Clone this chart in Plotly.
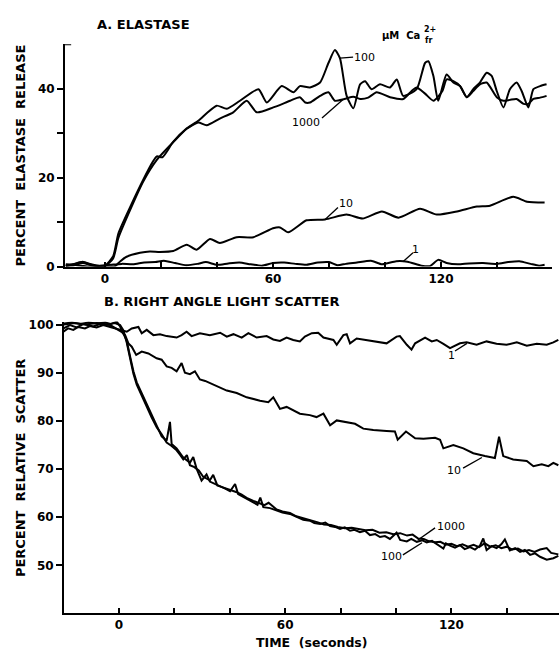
import plotly.graph_objects as go

W, H = 559, 659

# ---------------- Panel A: elastase release (percent) ----------------
A_T_100 = [-14.0, -11.0, -8.0, -5.0, -2.0, 0.0, 2.9, 4.8, 9.5, 13.7, 17.0, 18.5, 20.5, 24.4, 29.2,
           33.3, 36.5, 39.9, 43.5, 48.2, 54.8, 57.8, 63.1, 67.3, 69.6, 73.2, 76.8, 79.8, 82.1, 83.9,
           86.3, 88.7, 91.1, 92.9, 95.2, 98.2, 101.8, 104.2, 106.5, 111.3, 114.3, 115.5, 117.3, 119.0,
           122.0, 124.4, 126.8, 129.2, 131.5, 133.9, 136.3, 138.1, 139.9, 142.3, 144.6, 147.0, 148.8,
           151.2, 153.0, 155.4, 157.7]
A_V_100 = [0.2, 0.5, 1.0, 0.4, 0.1, 0.2, 2.3, 7.5, 14.1, 19.6, 23.5, 24.8, 24.6, 28.1, 31.1,
           32.8, 34.6, 36.2, 35.5, 37.3, 39.9, 36.9, 40.6, 39.2, 40.6, 40.3, 41.4, 45.8, 48.7, 46.9,
           38.4, 35.6, 41.0, 41.7, 39.9, 41.0, 40.3, 42.1, 38.4, 39.9, 45.8, 46.2, 42.8, 37.3,
           43.2, 41.4, 40.6, 38.1, 39.9, 41.4, 43.6, 42.9, 39.5, 35.8, 39.9, 41.4, 39.5,
           35.8, 39.9, 40.6, 41.0]

A_T_1000 = [-14.0, -11.0, -8.0, -5.0, -2.0, 0.0, 2.9, 4.8, 9.5, 13.7, 18.5, 24.4, 29.2, 33.3, 36.3,
            41.0, 45.8, 50.6, 54.2, 60.1, 66.1, 69.6, 71.5, 73.2, 76.8, 79.8, 82.1, 85.5, 88.7, 91.1,
            94.0, 97.0, 101.8, 106.5, 109.5, 111.3, 114.3, 117.3, 120.5, 122.0, 124.4, 126.8, 129.2,
            131.5, 133.9, 136.3, 139.9, 142.3, 144.6, 147.0, 149.5, 151.2, 153.0, 155.4, 157.7]
A_V_1000 = [0.1, 0.3, 0.8, 0.3, 0.0, 0.1, 1.8, 6.5, 13.5, 19.2, 24.0, 28.0, 31.0, 32.4, 31.8,
            33.3, 34.7, 37.3, 34.7, 35.8, 37.3, 38.1, 36.9, 36.9, 38.4, 39.2, 37.3, 37.7, 38.2, 37.7,
            38.0, 39.2, 38.1, 37.7, 39.5, 40.3, 38.9, 37.3, 39.5, 42.1, 41.7, 40.6, 38.1,
            39.5, 41.0, 41.4, 38.1, 37.3, 37.5, 37.7, 36.6, 36.6, 37.7, 38.0, 38.4]

A_T_10 = [-14.0, -11.0, -8.0, -5.0, -2.0, 0.0, 2.0, 3.6, 5.5, 7.7, 12.5, 16.0, 19.6, 24.4, 29.2,
          32.7, 37.5, 41.0, 47.0, 53.0, 60.0, 62.5, 65.4, 72.0, 78.6, 86.3, 92.0, 98.9, 104.8, 112.5,
          118.5, 125.7, 132.8, 137.5, 145.8, 150.7, 157.0]
A_V_10 = [0.2, 0.6, 1.1, 0.5, 0.1, 0.0, 0.0, 0.1, 1.2, 2.2, 3.1, 3.4, 3.3, 3.5, 4.9,
          3.8, 6.2, 5.3, 6.6, 6.6, 8.6, 8.8, 7.7, 10.4, 10.6, 11.7, 10.8, 12.4, 11.0, 13.0,
          11.7, 12.4, 13.5, 13.7, 15.7, 14.6, 14.4]

A_T_1 = [-14, -10, -6, -2, 2, 6, 10, 14, 18, 21, 25, 29, 33, 36, 40, 44, 48, 52, 56, 60, 64, 68,
         72, 76, 80, 83, 86, 90, 95, 99, 104, 108, 113, 116, 119, 122, 126, 130, 135, 140, 144, 148,
         152, 155, 157]
A_V_1 = [0.5, 0.3, 0.0, 0.2, 0.4, 0.6, 0.5, 0.9, 1.0, 1.3, 0.8, 0.3, 0.6, 1.0, 0.4, 0.7, 0.9, 0.5,
         0.2, 0.8, 0.9, 0.6, 0.4, 0.9, 1.0, 0.3, 0.6, 0.9, 1.3, 0.5, 1.2, 1.1, 0.2, 0.1, 1.5, 0.8,
         0.5, 0.7, 0.8, 0.6, 1.0, 1.2, 0.6, 0.2, 0.4]

# ---------------- Panel B: right angle light scatter (percent) ----------------
B_T_1 = [-20.1, -18.4, -16.5, -14.7, -12.3, -10.5, -8.1, -5.7, -3.2, -1.4, 0.4, 2.8, 4.6, 7.0, 8.2,
         10.0, 12.4, 14.8, 17.2, 20.8, 22.6, 24.4, 26.2, 29.2, 32.8, 36.5, 38.9, 41.3, 44.3, 46.7,
         49.7, 53.3, 55.7, 58.1, 60.5, 62.9, 65.3, 67.1, 69.6, 71.9, 73.8, 77.4, 78.6, 81.0, 82.2,
         83.4, 85.8, 89.4, 93.0, 96.6, 100.2, 101.4, 103.9, 105.6, 106.9, 110.5, 112.9, 114.7,
         117.1, 119.5, 123.1, 125.5, 129.1, 132.7, 136.3, 139.9, 143.6, 147.2, 150.8, 154.4,
         156.8, 158.6]
B_V_1 = [98.5, 99.2, 98.9, 99.5, 99.2, 99.7, 99.4, 99.9, 99.5, 99.2, 98.9, 98.5, 99.2, 99.5, 98.2,
         98.9, 97.8, 98.0, 97.6, 97.3, 97.8, 98.5, 97.6, 98.2, 97.8, 98.3, 97.5, 98.0, 97.3, 98.2,
         97.3, 97.6, 96.9, 96.6, 97.3, 96.8, 96.5, 97.5, 98.2, 98.3, 97.3, 96.8, 95.8, 97.8, 98.0,
         96.1, 97.1, 96.8, 96.5, 96.1, 97.5, 97.6, 95.8, 94.8, 96.1, 97.3, 96.5, 96.8,
         96.0, 95.1, 96.1, 96.3, 95.8, 96.5, 96.0, 95.8, 96.3, 95.6, 96.0, 95.8,
         96.3, 96.8]

B_T_10 = [-20.1, -17.7, -15.3, -12.9, -9.3, -6.9, -3.2, -1.0, 0.9, 2.2, 3.4, 4.6, 6.2, 8.2, 10.6,
          13.6, 15.4, 17.2, 19.0, 20.8, 22.6, 23.8, 25.6, 27.4, 29.2, 31.1, 32.8, 35.3, 38.9, 42.5,
          46.1, 50.9, 53.9, 55.7, 58.1, 60.5, 62.9, 65.3, 68.9, 71.3, 73.8, 76.2, 78.6, 81.0, 85.2,
          88.2, 91.8, 96.6, 99.6, 100.6, 103.6, 106.9, 109.9, 114.1, 115.9, 117.1, 120.7, 124.3,
          127.9, 132.1, 135.7, 137.2, 138.7, 142.3, 147.2, 149.6, 152.6, 155.0, 156.8, 158.6]
B_V_10 = [99.2, 99.9, 99.4, 100.1, 99.6, 100.1, 99.9, 99.2, 98.5, 97.8, 96.1, 95.4, 93.7, 94.4, 94.0,
          93.0, 92.7, 91.3, 91.0, 90.3, 92.0, 90.0, 89.7, 90.3, 88.6, 88.3, 87.9, 87.3, 86.3, 85.8,
          84.9, 84.2, 83.9, 84.9, 82.5, 82.9, 82.2, 81.5, 81.2, 80.8, 81.5, 79.1, 80.1, 79.8, 79.4,
          78.4, 78.1, 77.9, 77.8, 76.1, 77.8, 76.4, 76.3, 76.5, 76.1, 74.3, 75.0, 74.3,
          73.3, 72.7, 72.3, 76.7, 72.7, 72.0, 71.7, 70.6, 71.0, 70.6, 71.3, 70.8]

B_T_100 = [-19.9, -17.0, -14.0, -11.0, -8.0, -5.0, -3.0, -0.8, 0.4, 1.6, 2.8, 4.0, 5.2, 6.4, 8.2,
           10.0, 11.8, 13.6, 15.4, 17.2, 18.4, 19.0, 20.8, 23.2, 25.6, 26.8, 28.0, 29.8, 31.6, 32.8,
           34.5, 36.5, 38.5, 40.1, 41.9, 43.0, 44.3, 46.5, 48.5, 50.0, 51.0, 52.1, 54.5, 56.9, 59.0,
           61.7, 63.5, 66.5, 68.9, 70.5, 72.6, 74.5, 76.2, 78.0, 79.8, 81.5, 83.4, 85.0, 87.0, 88.8,
           90.6, 92.5, 94.2, 96.0, 97.8, 100.2, 101.5, 103.9, 105.5, 107.5, 109.5, 111.1, 113.0,
           114.7, 117.1, 118.0, 119.5, 121.3, 123.1, 124.8, 126.7, 128.5, 130.3, 131.5, 132.7,
           134.5, 136.3, 138.0, 139.3, 141.1, 143.0, 144.8, 146.5, 148.4, 150.2, 152.0, 154.4,
           156.8, 158.6]
B_V_100 = [100.2, 100.4, 100.1, 100.4, 100.2, 100.4, 100.1, 100.6, 99.6, 98.2, 96.6, 93.4, 90.3, 88.0, 85.8,
           83.4, 81.1, 79.0, 76.8, 75.9, 79.8, 75.2, 74.3, 72.4, 71.3, 72.5, 70.1, 67.6, 68.9, 67.4,
           67.0, 66.4, 65.9, 65.4, 66.9, 64.8, 64.4, 63.6, 63.1, 62.6, 64.1, 62.1, 61.9, 61.4, 61.0,
           60.7, 60.3, 59.5, 59.3, 58.8, 58.6, 58.9, 58.2, 58.0, 57.6, 57.9, 57.2, 57.4, 56.9, 57.2,
           56.3, 56.5, 55.9, 56.1, 55.5, 56.8, 55.3, 55.0, 55.5, 54.9, 55.2, 54.8, 55.1,
           54.4, 53.5, 54.6, 54.1, 53.7, 54.2, 53.4, 53.8, 53.3, 54.1, 55.6, 53.2,
           54.0, 53.6, 54.4, 55.4, 53.1, 53.6, 52.8, 53.2, 52.2, 52.5, 51.8, 51.2,
           51.5, 52.0]

B_T_1000 = [-19.9, -16.0, -12.0, -8.0, -4.0, -1.5, 0.4, 1.6, 2.8, 4.0, 5.2, 6.4, 8.2, 10.0, 11.8,
            13.6, 15.4, 17.2, 19.0, 20.8, 22.0, 23.2, 24.5, 25.6, 27.2, 28.8, 30.4, 32.8, 34.0, 35.5,
            37.5, 40.1, 42.5, 44.3, 46.5, 48.5, 50.5, 52.5, 54.0, 56.9, 59.0, 61.7, 64.0, 66.5, 69.0,
            71.5, 74.0, 76.5, 79.0, 81.5, 84.0, 86.5, 89.0, 91.5, 94.0, 96.5, 99.0, 101.5, 104.0,
            106.0, 108.0, 110.0, 112.0, 114.0, 116.0, 118.0, 120.0, 122.0, 124.0, 126.0, 128.0,
            130.0, 132.0, 134.0, 136.0, 138.0, 140.0, 142.0, 144.0, 146.0, 148.0, 150.0, 152.0,
            154.4, 156.0, 158.6]
B_V_1000 = [100.0, 100.3, 100.0, 100.3, 100.0, 100.3, 99.9, 98.8, 96.2, 92.9, 89.8, 87.5, 85.4, 83.0, 80.7,
            78.7, 77.2, 75.5, 74.8, 73.9, 73.0, 72.0, 72.9, 70.8, 70.4, 69.7, 68.4, 67.7, 68.8, 66.6,
            66.2, 65.7, 65.2, 64.7, 63.9, 63.4, 62.9, 62.5, 63.0, 61.6, 61.2, 60.9, 60.2, 59.8, 59.5,
            59.0, 58.5, 58.4, 58.0, 57.7, 57.8, 57.5, 57.3, 57.4, 56.8, 56.9, 56.5, 56.7, 56.2,
            56.4, 55.6, 55.5, 55.0, 54.8, 54.9, 54.3, 54.5, 54.0, 54.4, 53.9, 54.3,
            53.8, 54.6, 53.9, 54.2, 53.6, 53.9, 53.3, 53.5, 52.9, 53.2, 52.8, 53.3,
            53.6, 52.6, 52.3]

# ---------------- ticks ----------------
A_XTICKS = [0, 20, 40, 60, 80, 100, 120, 140]
A_XTEXT = ["0", "", "", "60", "", "", "120", ""]
A_YTICKS = [0, 10, 20, 30, 40]
A_YTEXT = ["0", "", "20", "", "40"]
B_XTICKS = [0, 20, 40, 60, 80, 100, 120, 140]
B_XTEXT = ["0", "", "", "60", "", "", "120", ""]
B_YTICKS = [50, 60, 70, 80, 90, 100]
B_YTEXT = ["50", "60", "70", "80", "90", "100"]

A_XRANGE = [-14.29, 159.64]
A_YRANGE = [0, 50]
B_XRANGE = [-19.86, 158.84]
B_YRANGE = [40.2, 100.61]

fig = go.Figure()


def add(t, v, xa, ya, shape):
    fig.add_trace(go.Scatter(x=t, y=v, mode="lines", xaxis=xa, yaxis=ya,
                             line=dict(color="black", width=2, shape=shape, smoothing=0.6),
                             showlegend=False, hoverinfo="skip"))


for t, v in [(A_T_1, A_V_1), (A_T_10, A_V_10), (A_T_1000, A_V_1000), (A_T_100, A_V_100)]:
    add(t, v, "x", "y", "spline")
for t, v in [(B_T_1, B_V_1), (B_T_10, B_V_10), (B_T_1000, B_V_1000), (B_T_100, B_V_100)]:
    add(t, v, "x2", "y2", "linear")

TICKFONT = dict(family="DejaVu Sans", size=12, color="black", weight="bold")
common = dict(showline=True, linewidth=2, linecolor="black", showgrid=False, zeroline=False,
              tickcolor="black", tickwidth=1.5, tickfont=TICKFONT, tickmode="array")

fig.update_layout(
    width=W, height=H, margin=dict(l=0, r=0, t=0, b=0),
    paper_bgcolor="white", plot_bgcolor="white", showlegend=False,
    xaxis=dict(domain=[65 / W, 552 / W], range=A_XRANGE, anchor="y", ticks="inside", ticklen=5,
               tickvals=A_XTICKS, ticktext=A_XTEXT, **common),
    yaxis=dict(domain=[1 - 267 / H, 1 - 41 / H], range=A_YRANGE, anchor="x", ticks="outside", ticklen=6,
               tickvals=A_YTICKS, ticktext=A_YTEXT, **common),
    xaxis2=dict(domain=[64 / W, 1.0], range=B_XRANGE, anchor="y2", ticks="inside", ticklen=5,
                tickvals=B_XTICKS, ticktext=B_XTEXT, **common),
    yaxis2=dict(domain=[1 - 619 / H, 1 - 323 / H], range=B_YRANGE, anchor="x2", ticks="outside", ticklen=6,
                tickvals=B_YTICKS, ticktext=B_YTEXT, **common),
)

LBL = dict(family="DejaVu Sans", size=11, color="black")

# curve labels (data coordinates) and leader lines
curve_labels = [
    ("x", "y", "100", 92.5, 47.1, (83.9, 46.9, 88.6, 47.1)),
    ("x", "y", "1000", 71.8, 32.3, (77.5, 33.4, 85.0, 37.6)),
    ("x", "y", "10", 86.1, 14.2, (78.6, 10.6, 83.2, 13.3)),
    ("x", "y", "1", 111.0, 3.8, (106.4, 1.1, 110.0, 3.1)),
    ("x2", "y2", "1", 120.2, 93.5, (121.3, 94.5, 125.6, 96.1)),
    ("x2", "y2", "10", 120.9, 69.8, (124.2, 70.2, 131.0, 72.4)),
    ("x2", "y2", "1000", 119.9, 58.0, (107.9, 55.3, 114.1, 57.8)),
    ("x2", "y2", "100", 98.2, 51.8, (102.5, 52.2, 109.4, 54.7)),
]
for xr, yr, txt, tx, ty, (x0, y0, x1, y1) in curve_labels:
    fig.add_annotation(x=tx, y=ty, xref=xr, yref=yr, text=txt, showarrow=False, font=LBL,
                       xanchor="center", yanchor="middle")
    fig.add_shape(type="line", xref=xr, yref=yr, x0=x0, y0=y0, x1=x1, y1=y1,
                  line=dict(color="black", width=1.3))

# small inward tick at top of panel A y-axis
fig.add_shape(type="line", xref="x", yref="y", x0=A_XRANGE[0], y0=50, x1=A_XRANGE[0] + 2.2, y1=50,
              line=dict(color="black", width=2))


def pa(text, px, py, size, xanchor="center", angle=0, weight="bold"):
    f = dict(family="DejaVu Sans", color="black", size=size, weight=weight)
    fig.add_annotation(x=px / W, y=1 - py / H, xref="paper", yref="paper", text=text, showarrow=False,
                       font=f, xanchor=xanchor, yanchor="middle", textangle=angle)


pa("A. ELASTASE", 143, 21, 13)
pa("B. RIGHT ANGLE LIGHT SCATTER", 221, 303, 13)
pa("TIME  (seconds)", 312, 649, 12.5)
pa("PERCENT  ELASTASE  RELEASE", 20, 154, 13, angle=-90)
pa("PERCENT  RELATIVE  SCATTER", 20, 472, 13, angle=-90)
pa("μM  Ca", 422, 32, 10, xanchor="right")
pa("2+", 422, 26, 8, xanchor="left")
pa("fr", 423, 37, 8, xanchor="left")

fig.write_html(
    "out.html",
    config={"displayModeBar": False},
    post_script="document.body.style.margin='0';document.body.style.overflow='hidden';",
)
